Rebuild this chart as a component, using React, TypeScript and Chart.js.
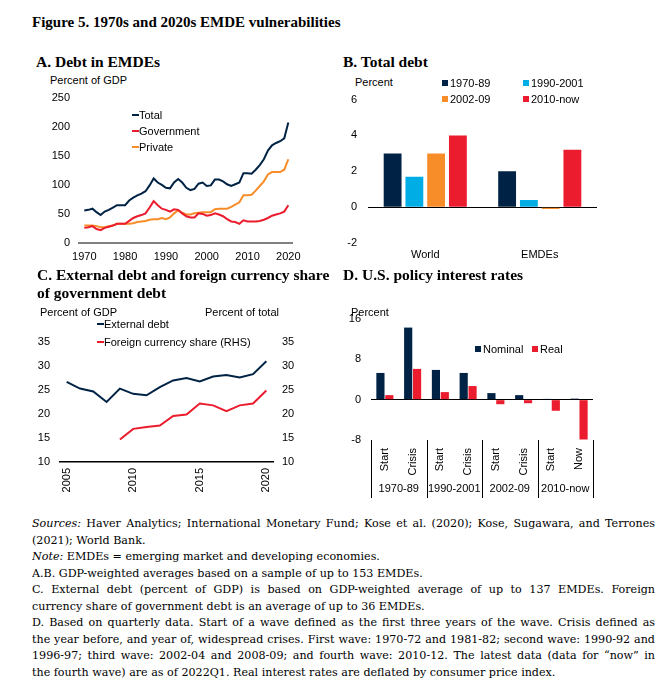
import React, { useEffect, useRef, useMemo } from "react";
import { Chart, registerables } from "chart.js";

Chart.register(...registerables);

const SANS = "'Liberation Sans', Arial, sans-serif";
const SERIF = "'Liberation Serif', 'Times New Roman', serif";
const NOTE_SERIF = "'DejaVu Serif', 'Liberation Serif', serif";
const NAVY = "#002345";
const RED = "#EB1C2D";
const ORANGE = "#F78D28";
const CYAN = "#00ADE4";

Chart.defaults.font.family = SANS;
Chart.defaults.font.size = 11;
Chart.defaults.color = "#000";

// ---------- Panel A: Debt in EMDEs (percent of GDP) ----------
const aYears = [
  1970, 1971, 1972, 1973, 1974, 1975, 1976, 1977, 1978, 1979,
  1980, 1981, 1982, 1983, 1984, 1985, 1986, 1987, 1988, 1989,
  1990, 1991, 1992, 1993, 1994, 1995, 1996, 1997, 1998, 1999,
  2000, 2001, 2002, 2003, 2004, 2005, 2006, 2007, 2008, 2009,
  2010, 2011, 2012, 2013, 2014, 2015, 2016, 2017, 2018, 2019, 2020,
];
const aTotal = [
  56, 57, 59, 53, 48, 54, 57, 61, 65, 65,
  65, 73, 78, 82, 85, 89, 99, 111, 104, 100,
  95, 94, 104, 110, 104, 95, 91, 93, 102, 104,
  98, 99, 109, 109, 106, 101, 98, 101, 104, 120,
  120, 119, 126, 134, 144, 159, 168, 172, 175, 180, 207,
];
const aGovernment = [
  26, 27, 29, 24, 22, 26, 28, 30, 33, 33,
  33, 38, 43, 46, 48, 51, 61, 72, 65, 59,
  57, 54, 58, 57, 51, 46, 44, 44, 51, 50,
  47, 48, 51, 49, 46, 41, 37, 36, 33, 39,
  37, 37, 37, 38, 40, 43, 47, 49, 51, 54, 65,
];
const aPrivate = [
  30, 30, 30, 29, 27, 27, 29, 30, 33, 33,
  33, 33, 34, 36, 37, 38, 40, 41, 41, 43,
  41, 44, 51, 56, 52, 49, 49, 51, 52, 53,
  53, 53, 58, 59, 59, 59, 62, 66, 70, 82,
  82, 83, 90, 98, 106, 118, 122, 122, 122, 126, 144,
];
const aTickYears = [1970, 1980, 1990, 2000, 2010, 2020];

// ---------- Panel B: Total debt (percent) ----------
const bCategories = ["World", "EMDEs"];
const bSeriesNames = ["1970-89", "1990-2001", "2002-09", "2010-now"];
const b1970_89 = [3.0, 2.0];
const b1990_2001 = [1.7, 0.4];
const b2002_09 = [3.0, -0.1];
const b2010_now = [4.0, 3.2];

// ---------- Panel C: External debt & FX share ----------
const cYears = [
  "2005", "2006", "2007", "2008", "2009", "2010", "2011", "2012",
  "2013", "2014", "2015", "2016", "2017", "2018", "2019", "2020",
];
const cExternalDebt = [
  26.7, 25.3, 24.7, 22.5, 25.3, 24.2, 23.9, 25.6,
  27.0, 27.5, 26.8, 27.8, 28.1, 27.6, 28.3, 31.0,
];
const cForeignShare = [
  null, null, null, null, 14.7, 16.9, 17.3, 17.6,
  19.6, 19.9, 22.2, 21.8, 20.6, 21.8, 22.2, 24.9,
];
const cTickYears = ["2005", "2010", "2015", "2020"];

// ---------- Panel D: U.S. policy interest rates ----------
const dCategories = ["Start", "Crisis", "Start", "Crisis", "Start", "Crisis", "Start", "Now"];
const dGroups = ["1970-89", "1990-2001", "2002-09", "2010-now"];
const dNominal = [5.3, 14.3, 5.9, 5.3, 1.3, 0.9, 0.15, 0.2];
const dReal = [0.9, 6.1, 1.5, 2.7, -0.9, -0.7, -2.2, -7.9];

// ---------- Notes ----------
const noteLines = [
  { lead: "Sources:", text: " Haver Analytics; International Monetary Fund; Kose et al. (2020); Kose, Sugawara, and Terrones", justify: true },
  { lead: "", text: "(2021); World Bank.", justify: false },
  { lead: "Note:", text: " EMDEs = emerging market and developing economies.", justify: false },
  { lead: "", text: "A.B. GDP-weighted averages based on a sample of up to 153 EMDEs.", justify: false },
  { lead: "", text: "C. External debt (percent of GDP) is based on GDP-weighted average of up to 137 EMDEs. Foreign", justify: true },
  { lead: "", text: "currency share of government debt is an average of up to 36 EMDEs.", justify: false },
  { lead: "", text: "D. Based on quarterly data. Start of a wave defined as the first three years of the wave. Crisis defined as", justify: true },
  { lead: "", text: "the year before, and year of, widespread crises. First wave: 1970-72 and 1981-82; second wave: 1990-92 and", justify: true },
  { lead: "", text: "1996-97; third wave: 2002-04 and 2008-09; and fourth wave: 2010-12. The latest data (data for \u201cnow\u201d in", justify: true },
  { lead: "", text: "the fourth wave) are as of 2022Q1. Real interest rates are deflated by consumer price index.", justify: false },
];

// ---------- Helpers ----------
function ChartBox({ left, top, width, height, make }: any) {
  const ref = useRef<HTMLCanvasElement>(null);
  useEffect(() => {
    const chart = new Chart(ref.current as HTMLCanvasElement, make());
    return () => chart.destroy();
  }, []);
  return (
    <div style={{ position: "absolute", left, top, width, height }}>
      <canvas ref={ref} />
    </div>
  );
}

function T({ x, y, children, size = 11, style = {} }: any) {
  return (
    <div
      style={{
        position: "absolute",
        left: x,
        top: y - 8,
        height: 16,
        lineHeight: "16px",
        fontSize: size,
        fontFamily: SANS,
        whiteSpace: "nowrap",
        color: "#000",
        display: "flex",
        alignItems: "center",
        ...style,
      }}
    >
      {children}
    </div>
  );
}

const Dash = ({ color }: any) => (
  <span style={{ display: "inline-block", width: 7, height: 2, background: color }} />
);
const Sq = ({ color }: any) => (
  <span style={{ display: "inline-block", width: 6, height: 6, background: color, marginRight: 2 }} />
);

function Heading({ x, y, children, size = 15.5 }: any) {
  return (
    <div
      style={{
        position: "absolute",
        left: x,
        top: y - 10,
        height: 20,
        lineHeight: "20px",
        fontSize: size,
        fontFamily: SERIF,
        fontWeight: "bold",
        whiteSpace: "nowrap",
        color: "#000",
      }}
    >
      {children}
    </div>
  );
}

const baseOpts = {
  animation: false,
  responsive: true,
  maintainAspectRatio: false,
  plugins: { legend: { display: false }, tooltip: { enabled: false } },
};

const noGrid = { display: false, drawTicks: false };

const zeroGrid = {
  drawTicks: false,
  color: (ctx: any) => (ctx.tick && ctx.tick.value === 0 ? "#000" : "rgba(0,0,0,0)"),
  lineWidth: 1,
};

const makeA = () => ({
  type: "line",
  data: {
    datasets: [
      { label: "Total", data: aYears.map((x, i) => ({ x, y: aTotal[i] })), borderColor: NAVY },
      { label: "Government", data: aYears.map((x, i) => ({ x, y: aGovernment[i] })), borderColor: RED },
      { label: "Private", data: aYears.map((x, i) => ({ x, y: aPrivate[i] })), borderColor: ORANGE },
    ].map((d) => ({ ...d, borderWidth: 2, pointRadius: 0, tension: 0, fill: false })),
  },
  options: {
    ...baseOpts,
    layout: { padding: { top: 12, right: 18, left: 0, bottom: 0 } },
    scales: {
      x: {
        type: "linear",
        min: 1968.7,
        max: 2020.9,
        afterBuildTicks: (s: any) => {
          s.ticks = aTickYears.map((v) => ({ value: v }));
        },
        ticks: { callback: (v: any) => String(v), padding: 7, maxRotation: 0, autoSkip: false },
        grid: noGrid,
        border: { display: true, color: "#808080", width: 2 },
        afterFit: (s: any) => {
          s.height = 24;
        },
      },
      y: {
        min: 0,
        max: 250,
        ticks: { stepSize: 50, padding: 9 },
        grid: noGrid,
        border: { display: false },
        afterFit: (s: any) => {
          s.width = 49;
        },
      },
    },
  },
});

const makeB = () => ({
  type: "bar",
  data: {
    labels: bCategories,
    datasets: [
      { label: bSeriesNames[0], data: b1970_89, backgroundColor: NAVY },
      { label: bSeriesNames[1], data: b1990_2001, backgroundColor: CYAN },
      { label: bSeriesNames[2], data: b2002_09, backgroundColor: ORANGE },
      { label: bSeriesNames[3], data: b2010_now, backgroundColor: RED },
    ],
  },
  options: {
    ...baseOpts,
    datasets: { bar: { categoryPercentage: 0.76, barPercentage: 0.82 } },
    layout: { padding: { top: 12, right: 13, left: 0, bottom: 0 } },
    scales: {
      x: {
        grid: noGrid,
        border: { display: false },
        ticks: { padding: 5 },
        afterFit: (s: any) => {
          s.height = 24;
        },
      },
      y: {
        min: -2,
        max: 6,
        ticks: { stepSize: 2, padding: 11 },
        grid: zeroGrid,
        border: { display: false },
        afterFit: (s: any) => {
          s.width = 33;
        },
      },
    },
  },
});

const makeC = () => ({
  type: "line",
  data: {
    labels: cYears,
    datasets: [
      { label: "External debt", data: cExternalDebt, borderColor: NAVY, yAxisID: "y" },
      { label: "Foreign currency share (RHS)", data: cForeignShare, borderColor: RED, yAxisID: "y1" },
    ].map((d) => ({ ...d, borderWidth: 2, pointRadius: 0, tension: 0, fill: false })),
  },
  options: {
    ...baseOpts,
    layout: { padding: { top: 42, right: 0, left: 0, bottom: 0 } },
    scales: {
      x: {
        offset: true,
        grid: noGrid,
        border: { display: true, color: "#000", width: 1.5 },
        ticks: {
          autoSkip: false,
          maxRotation: 90,
          minRotation: 90,
          padding: 6,
          callback: (_v: any, i: number) => (cTickYears.includes(cYears[i]) ? cYears[i] : ""),
        },
        afterFit: (s: any) => {
          s.height = 38;
        },
      },
      y: {
        position: "left",
        min: 10,
        max: 35,
        ticks: { stepSize: 5, padding: 10 },
        grid: noGrid,
        border: { display: false },
        afterFit: (s: any) => {
          s.width = 30;
        },
      },
      y1: {
        position: "right",
        min: 10,
        max: 35,
        ticks: { stepSize: 5, padding: 9 },
        grid: noGrid,
        border: { display: false },
        afterFit: (s: any) => {
          s.width = 57;
        },
      },
    },
  },
});

const groupPlugin = {
  id: "groupLabels",
  afterDraw(chart: any) {
    const xs = chart.scales.x;
    const ca = chart.chartArea;
    const ctx = chart.ctx;
    const half = (xs.getPixelForValue(1) - xs.getPixelForValue(0)) / 2;
    ctx.save();
    ctx.strokeStyle = "#000";
    ctx.lineWidth = 1;
    for (let g = 0; g <= dGroups.length; g++) {
      const x =
        g < dGroups.length
          ? xs.getPixelForValue(2 * g) - half
          : xs.getPixelForValue(dCategories.length - 1) + half;
      const px = Math.round(x) + 0.5;
      ctx.beginPath();
      ctx.moveTo(px, ca.bottom);
      ctx.lineTo(px, ca.bottom + 58);
      ctx.stroke();
    }
    ctx.fillStyle = "#000";
    ctx.font = `11px ${SANS}`;
    ctx.textAlign = "center";
    ctx.textBaseline = "middle";
    dGroups.forEach((name, g) => {
      const cx = (xs.getPixelForValue(2 * g) + xs.getPixelForValue(2 * g + 1)) / 2;
      ctx.fillText(name, cx, ca.bottom + 49);
    });
    ctx.restore();
  },
};

const makeD = () => ({
  type: "bar",
  data: {
    labels: dCategories,
    datasets: [
      { label: "Nominal", data: dNominal, backgroundColor: NAVY },
      { label: "Real", data: dReal, backgroundColor: RED },
    ],
  },
  options: {
    ...baseOpts,
    datasets: { bar: { categoryPercentage: 0.64, barPercentage: 0.92 } },
    layout: { padding: { top: 19, right: 22, left: 0, bottom: 0 } },
    scales: {
      x: {
        grid: noGrid,
        border: { display: false },
        ticks: { autoSkip: false, maxRotation: 90, minRotation: 90, padding: 8 },
        afterFit: (s: any) => {
          s.height = 65;
        },
      },
      y: {
        min: -8,
        max: 16,
        ticks: { stepSize: 8, padding: 10 },
        grid: zeroGrid,
        border: { display: false },
        afterFit: (s: any) => {
          s.width = 36;
        },
      },
    },
  },
  plugins: [groupPlugin],
});

function fitNoteSize(): number {
  const c = document.createElement("canvas").getContext("2d");
  if (!c) return 11;
  c.font = `10px ${NOTE_SERIF}`;
  const w = (s: string) => c.measureText(s).width;
  const last = noteLines[noteLines.length - 1];
  let size = (10 * 535) / w(last.text);
  noteLines.forEach((l) => {
    if (l.justify) {
      const lim = (10 * 618) / w(l.lead + l.text);
      if (lim < size) size = lim;
    }
  });
  return Math.max(9, Math.min(13, size));
}

function Notes() {
  const size = useMemo(fitNoteSize, []);
  return (
    <div
      style={{
        position: "absolute",
        left: 32,
        top: 516,
        width: 623,
        fontFamily: NOTE_SERIF,
        fontSize: size,
        color: "#000",
      }}
    >
      {noteLines.map((l, i) => (
        <div
          key={i}
          style={{
            height: 16.5,
            lineHeight: "16.5px",
            textAlign: l.justify ? "justify" : "left",
            textAlignLast: l.justify ? "justify" : "left",
            overflow: "hidden",
          }}
        >
          {l.lead ? <i>{l.lead}</i> : null}
          {l.text}
        </div>
      ))}
    </div>
  );
}

export default function App() {
  return (
    <div
      style={{
        position: "absolute",
        left: 0,
        top: 0,
        width: 668,
        height: 684,
        background: "#fff",
        overflow: "hidden",
      }}
    >
      <Heading x={32} y={22} size={15}>
        Figure 5. 1970s and 2020s EMDE vulnerabilities
      </Heading>

      {/* Panel A */}
      <Heading x={36} y={62}>A. Debt in EMDEs</Heading>
      <T x={50} y={80}>Percent of GDP</T>
      <ChartBox left={30} top={82} width={280} height={185} make={makeA} />
      <T x={132} y={115}>
        <Dash color={NAVY} />
        Total
      </T>
      <T x={132} y={131}>
        <Dash color={RED} />
        Government
      </T>
      <T x={132} y={147}>
        <Dash color={ORANGE} />
        Private
      </T>

      {/* Panel B */}
      <Heading x={343} y={62}>B. Total debt</Heading>
      <T x={355} y={82}>Percent</T>
      <ChartBox left={335} top={82} width={275} height={185} make={makeB} />
      <T x={442} y={83}>
        <Sq color={NAVY} />
        1970-89
      </T>
      <T x={523} y={83}>
        <Sq color={CYAN} />
        1990-2001
      </T>
      <T x={442} y={99}>
        <Sq color={ORANGE} />
        2002-09
      </T>
      <T x={523} y={99}>
        <Sq color={RED} />
        2010-now
      </T>

      {/* Panel C */}
      <Heading x={37} y={275}>C. External debt and foreign currency share</Heading>
      <Heading x={37} y={293}>of government debt</Heading>
      <T x={40} y={312}>Percent of GDP</T>
      <T x={205} y={312}>Percent of total</T>
      <ChartBox left={30} top={300} width={300} height={200} make={makeC} />
      <T x={97} y={324}>
        <Dash color={NAVY} />
        External debt
      </T>
      <T x={97} y={342}>
        <Dash color={RED} />
        Foreign currency share (RHS)
      </T>

      {/* Panel D */}
      <Heading x={343} y={275}>D. U.S. policy interest rates</Heading>
      <ChartBox left={335} top={300} width={280} height={205} make={makeD} />
      <T x={351} y={312}>Percent</T>
      <T x={475} y={349}>
        <Sq color={NAVY} />
        Nominal
      </T>
      <T x={532} y={349}>
        <Sq color={RED} />
        Real
      </T>

      <Notes />
    </div>
  );
}
